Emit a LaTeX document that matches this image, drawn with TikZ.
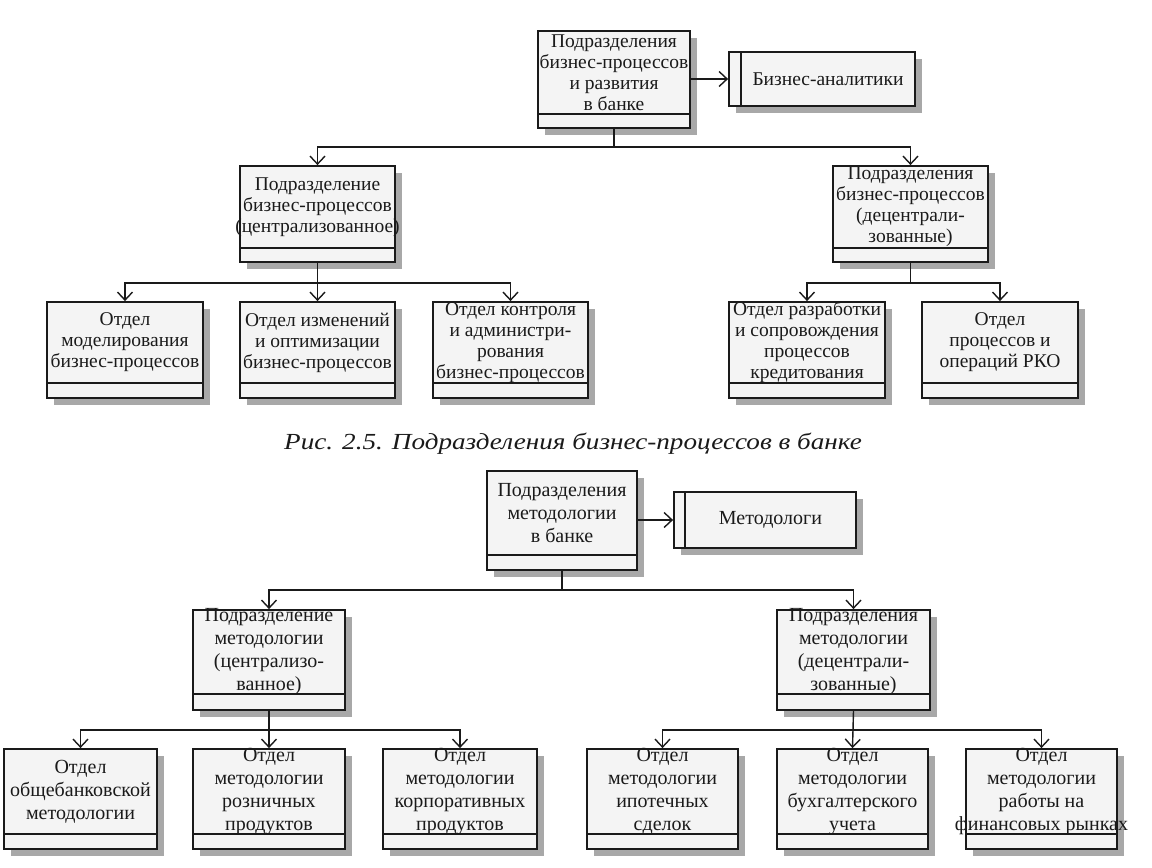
\documentclass[tikz,border=0pt]{standalone}
\usepackage{fontspec}
\usepackage{graphicx}
\setmainfont{Liberation Serif}
\usetikzlibrary{arrows.meta,shadows,fit}
\definecolor{boxfill}{HTML}{F4F4F4}
\definecolor{shadowgray}{HTML}{A8A8A8}
\definecolor{ink}{HTML}{1A1A1A}
\newcommand\umlbox[8]{%
  \node[ubox, fit={(#2,#3) (#4,#5)}] (#1) {};
  \draw[sepline] (#2,#6) -- (#4,#6);
  \node[#7] (#1t) at ({(#2+#4)/2},{(#3+#6)/2}) {#8};
}
\newcommand\actbox[7]{%
  \node[ubox, fit={(#2,#3) (#4,#5)}] (#1) {};
  \draw[sepline] (#6,#3) -- (#6,#5);
  \node[toptext] (#1t) at ({(#6+#4)/2},{(#3+#5)/2}) {#7};
}
\begin{document}
\begin{tikzpicture}[x=1pt,y=-1pt,
  ubox/.style={draw=ink, line width=1.8pt, fill=boxfill, inner sep=0pt,
    drop shadow={shadow xshift=7pt, shadow yshift=-7pt, fill=shadowgray, opacity=1}},
  sepline/.style={draw=ink, line width=1.6pt},
  toptext/.style={align=center, inner sep=0pt, text=ink, font=\fontsize{19.5}{21}\selectfont},
  bottext/.style={align=center, inner sep=0pt, text=ink, font=\fontsize{20}{23}\selectfont},
  conn/.style={draw=ink, line width=1.4pt},
  arr/.style={conn, -{Straight Barb[length=8pt,width=15pt,line width=1.4pt]}},
  captionstyle/.style={inner sep=0pt, text=ink, font=\fontsize{23}{26}\selectfont\itshape}
]
\useasboundingbox (0,0) rectangle (1152,868);
\fill[white] (0,0) rectangle (1152,868);

% ---------- top diagram ----------
\umlbox{root1}{538}{31}{690}{128}{114}{toptext}{Подразделения\\бизнес-процессов\\и развития\\в банке}
\actbox{ba}{729}{52}{915}{106}{741}{Бизнес-аналитики}
\umlbox{la}{240}{166}{395}{262}{248}{toptext}{Подразделение\\бизнес-процессов\\(централизованное)}
\umlbox{lb}{833}{166}{988}{262}{248}{toptext}{Подразделения\\бизнес-процессов\\(децентрали-\\зованные)}
\umlbox{ta}{47}{302}{203}{398}{383}{toptext}{Отдел\\моделирования\\бизнес-процессов}
\umlbox{tb}{240}{302}{395}{398}{383}{toptext}{Отдел изменений\\и оптимизации\\бизнес-процессов}
\umlbox{tc}{433}{302}{588}{398}{383}{toptext}{Отдел контроля\\и администри-\\рования\\бизнес-процессов}
\umlbox{td}{729}{302}{885}{398}{383}{toptext}{Отдел разработки\\и сопровождения\\процессов\\кредитования}
\umlbox{te}{922}{302}{1078}{398}{383}{toptext}{Отдел\\процессов и\\операций РКО}

\draw[arr] (root1.east |- ba.west) -- (ba.west);
\draw[arr] (root1.south) -- ++(0,18) -| (la.north);
\draw[arr] (root1.south) -- ++(0,18) -| (lb.north);
\draw[arr] (la.south) -- ++(0,20) -| (ta.north);
\draw[arr] (la.south) -- (tb.north);
\draw[arr] (la.south) -- ++(0,20) -| (tc.north);
\draw[arr] (lb.south) -- ++(0,20) -| (td.north);
\draw[arr] (lb.south) -- ++(0,20) -| (te.north);

\node[captionstyle] (cap) at (573,444) {\scalebox{1.18}[1]{Рис. 2.5. Подразделения бизнес-процессов в банке}};

% ---------- bottom diagram ----------
\umlbox{root2}{487}{471}{637}{570}{555}{bottext}{Подразделения\\методологии\\в банке}
\actbox{met}{674}{492}{856}{548}{685}{\fontsize{20}{23}\selectfont Методологи}
\umlbox{lc}{193}{610}{345}{710}{694}{bottext}{Подразделение\\методологии\\(централизо-\\ванное)}
\umlbox{ld}{777}{610}{930}{710}{694}{bottext}{Подразделения\\методологии\\(децентрали-\\зованные)}
\umlbox{ba1}{4}{749}{157}{849}{834}{bottext}{Отдел\\общебанковской\\методологии}
\umlbox{ba2}{193}{749}{345}{849}{834}{bottext}{Отдел\\методологии\\розничных\\продуктов}
\umlbox{ba3}{383}{749}{537}{849}{834}{bottext}{Отдел\\методологии\\корпоративных\\продуктов}
\umlbox{ba4}{587}{749}{738}{849}{834}{bottext}{Отдел\\методологии\\ипотечных\\сделок}
\umlbox{ba5}{777}{749}{928}{849}{834}{bottext}{Отдел\\методологии\\бухгалтерского\\учета}
\umlbox{ba6}{966}{749}{1117}{849}{834}{bottext}{Отдел\\методологии\\работы на\\финансовых рынках}

\draw[arr] (root2.east |- met.west) -- (met.west);
\draw[arr] (root2.south) -- ++(0,19) -| (lc.north);
\draw[arr] (root2.south) -- ++(0,19) -| (ld.north);
\draw[arr] (lc.south) -- ++(0,19) -| (ba1.north);
\draw[arr] (lc.south) -- (ba2.north);
\draw[arr] (lc.south) -- ++(0,19) -| (ba3.north);
\draw[arr] (ld.south) -- ++(0,19) -| (ba4.north);
\draw[arr] (ld.south) -- (ba5.north);
\draw[arr] (ld.south) -- ++(0,19) -| (ba6.north);
\end{tikzpicture}
\end{document}
